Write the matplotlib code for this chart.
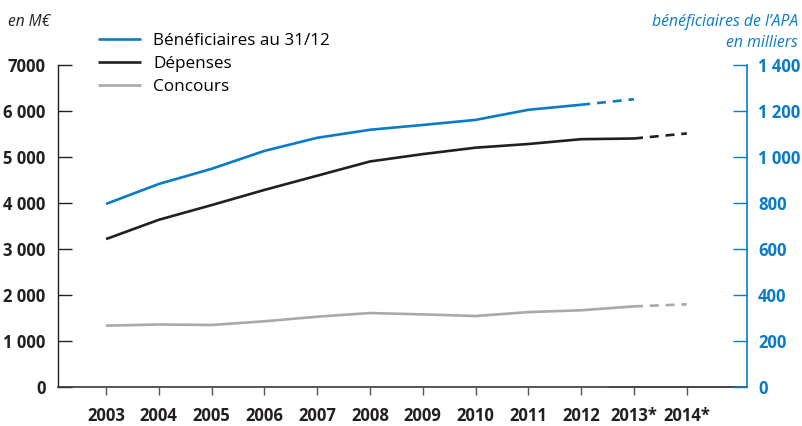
import matplotlib
matplotlib.use('Agg')
import matplotlib.pyplot as plt

# Années et séries
annees = ['2003', '2004', '2005', '2006', '2007', '2008', '2009', '2010',
          '2011', '2012', '2013*', '2014*']
depenses = [3210, 3630, 3950, 4280, 4590, 4900, 5060, 5200, 5280, 5385, 5400, 5510]
concours = [1325, 1350, 1340, 1420, 1520, 1600, 1570, 1535, 1620, 1660, 1745, 1790]
beneficiaires = [795, 882, 948, 1026, 1083, 1118, 1139, 1161, 1205, 1227, 1251]

# Dernier point observé (au-delà : estimation en pointillés)
dernier_dep = 10
dernier_conc = 10
dernier_benef = 9

ticks_gauche = [0, 1000, 2000, 3000, 4000, 5000, 6000, 7000]
labels_gauche = ['0', '1 000', '2 000', '3 000', '4 000', '5 000', '6 000', '7000']
ticks_droite = [0, 200, 400, 600, 800, 1000, 1200, 1400]
labels_droite = ['0', '200', '400', '600', '800', '1 000', '1 200', '1 400']

BLEU = '#0a7bc6'
NOIR = '#231f20'
GRIS = '#a7a9ac'


def main():
    plt.rcParams['font.family'] = ['Open Sans', 'DejaVu Sans']
    plt.rcParams['lines.solid_capstyle'] = 'butt'

    fig = plt.figure(figsize=(8.02, 4.26), dpi=100)
    ax = fig.add_axes([0.0723, 0.0927, 0.8591, 0.7547])
    ax2 = ax.twinx()

    x = list(range(len(annees)))
    lw = 1.9
    tirets = (0, (3.4, 2.6))

    # Dépenses et concours (axe de gauche)
    l_dep, = ax.plot(x[:dernier_dep + 1], depenses[:dernier_dep + 1], color=NOIR, lw=lw)
    ax.plot(x[dernier_dep:], depenses[dernier_dep:], color=NOIR, lw=lw, linestyle=tirets)
    l_conc, = ax.plot(x[:dernier_conc + 1], concours[:dernier_conc + 1], color=GRIS, lw=lw)
    ax.plot(x[dernier_conc:], concours[dernier_conc:], color=GRIS, lw=lw, linestyle=tirets)

    # Bénéficiaires (axe de droite)
    xb = x[:len(beneficiaires)]
    l_ben, = ax2.plot(xb[:dernier_benef + 1], beneficiaires[:dernier_benef + 1], color=BLEU, lw=lw)
    ax2.plot(xb[dernier_benef:], beneficiaires[dernier_benef:], color=BLEU, lw=lw, linestyle=tirets)

    ax.set_xlim(-0.91, 12.14)
    ax.set_ylim(0, 7000)
    ax2.set_ylim(0, 1400)

    # Axes
    for a in (ax, ax2):
        a.spines['top'].set_visible(False)
    ax.spines['right'].set_visible(False)
    ax2.spines['left'].set_visible(False)
    ax2.spines['bottom'].set_visible(False)
    ax.spines['left'].set_color(NOIR)
    ax.spines['left'].set_linewidth(1.0)
    ax.spines['bottom'].set_color('#3a3a3a')
    ax.spines['bottom'].set_linewidth(1.2)
    ax2.spines['right'].set_color(BLEU)
    ax2.spines['right'].set_linewidth(1.2)
    ax.axhline(0, xmin=0.80, xmax=0.985, color='#8a8a8a', lw=1.3, clip_on=False)

    ax.set_xticks(x)
    ax.set_xticklabels(annees, fontsize=12, fontweight='bold', color=NOIR)
    ax.tick_params(axis='x', direction='out', length=6, width=1.0, color='#555555', pad=9)

    ax.set_yticks(ticks_gauche)
    ax.set_yticklabels(labels_gauche, fontsize=12, fontweight='bold', color=NOIR)
    ax.tick_params(axis='y', direction='in', length=10, width=1.0, color=NOIR, pad=9)

    ax2.set_yticks(ticks_droite)
    ax2.set_yticklabels(labels_droite, fontsize=12, fontweight='bold', color=BLEU)
    ax2.tick_params(axis='y', direction='in', length=10, width=1.0, color=BLEU, pad=8)

    # Titres des axes
    fig.text(0.01, 0.948, 'en M€', fontsize=11.2, style='italic', color=NOIR,
             ha='left', va='center')
    fig.text(0.995, 0.948, 'bénéficiaires de l\u2019APA', fontsize=11.3, style='italic',
             color=BLEU, ha='right', va='center')
    fig.text(0.995, 0.9, 'en milliers', fontsize=11.3, style='italic',
             color=BLEU, ha='right', va='center')

    # Légende
    fig.legend([l_ben, l_dep, l_conc], ['Bénéficiaires au 31/12', 'Dépenses', 'Concours'],
               loc='upper left', bbox_to_anchor=(0.122, 0.922), frameon=False,
               fontsize=12.3, handlelength=2.5, handletextpad=0.75, labelspacing=0.4,
               borderaxespad=0, borderpad=0)

    fig.savefig('out.png', dpi=100)


if __name__ == '__main__':
    main()
